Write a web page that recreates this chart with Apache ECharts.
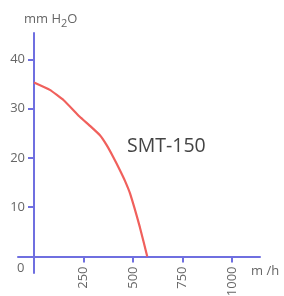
<!DOCTYPE html>
<html>
<head>
<meta charset="utf-8">
<script src="https://cdn.jsdelivr.net/npm/echarts@6/dist/echarts.min.js"></script>
<style>
html,body{margin:0;padding:0;background:#fff;}
#main{width:284px;height:296px;}
</style>
</head>
<body>
<div id="main"></div>
<script>
// flow m3/h and head mm H2O
var flowData=[0,80,150,230,283,333,367,400,434,460,485,535,572];
var headData=[35.3,33.8,31.7,28.4,26.5,24.6,22.6,20.2,17.5,15.3,12.8,5.9,0];
var xStep=250;
var yStep=10;
var seriesName='SMT-150';

var axisColor='#6f6fe0';
var labelColor='#666';
var pts=[];
for(var i=0;i<flowData.length;i++){
	pts.push([flowData[i],headData[i]]);
}
function lineOnly(){return {show:true,lineStyle:{color:axisColor,width:2}};}
var myChart=echarts.init(document.getElementById('main'));
var option={
	animation:false,
	title:{
		left:19,
		top:5,
		text:'{a|mm H}{s|2}{a|O}',
		textStyle:{
			fontWeight:'normal',
			rich:{
				a:{fontFamily:'Open Sans',fontSize:13,fontWeight:'normal',color:labelColor},
				s:{fontFamily:'Open Sans',fontSize:11,fontWeight:'normal',color:labelColor,padding:[8,0,0,0]}
			}
		}
	},
	// 0: data grid (0..1000, 0..40), 1: x axis line running past the origin, 2: y axis line running below it
	grid:[
		{left:34,right:52,top:59.3,bottom:39.5,outerBoundsMode:'none'},
		{left:18,right:24,top:33,bottom:39.5,outerBoundsMode:'none'},
		{left:34,right:24,top:33,bottom:23,outerBoundsMode:'none'}
	],
	xAxis:[
		{
			gridIndex:0,type:'value',min:0,max:1000,interval:xStep,
			splitLine:{show:false},axisLine:lineOnly(),
			axisTick:{show:true,inside:false,length:6,lineStyle:{color:axisColor,width:2}},
			axisLabel:{rotate:90,margin:10,color:labelColor,fontFamily:'Open Sans',fontSize:13,
				formatter:function(v){return v===0?'':String(v);}}
		},
		{gridIndex:1,type:'value',min:-81,max:1141,splitLine:{show:false},axisTick:{show:false},axisLabel:{show:false},axisLine:lineOnly()},
		{gridIndex:2,type:'value',show:false}
	],
	yAxis:[
		{
			gridIndex:0,type:'value',min:0,max:40,interval:yStep,
			splitLine:{show:false},axisLine:lineOnly(),
			axisTick:{show:true,inside:false,length:6,lineStyle:{color:axisColor,width:2}},
			axisLabel:{margin:9,color:labelColor,fontFamily:'Open Sans',fontSize:13,
				formatter:function(v){return v===0?'':String(v);}}
		},
		{gridIndex:1,type:'value',show:false},
		{gridIndex:2,type:'value',min:-3.35,max:45.3,splitLine:{show:false},axisTick:{show:false},axisLabel:{show:false},axisLine:lineOnly()}
	],
	graphic:[
		{type:'text',left:17,top:262,style:{text:'0',fill:labelColor,font:'13px "Open Sans"'}},
		{type:'text',left:251,top:265,style:{text:'m /h',fill:labelColor,font:'13px "Open Sans"'}},
		{type:'text',left:127,top:136,style:{text:seriesName,fill:'#444',font:'19.5px "Open Sans"'}}
	],
	series:[
		{
			name:seriesName,
			type:'line',
			xAxisIndex:0,
			yAxisIndex:0,
			data:pts,
			smooth:0.12,
			symbol:'none',
			lineStyle:{color:'#f0605c',width:2.2}
		}
	]
};
myChart.setOption(option);
</script>
</body>
</html>
